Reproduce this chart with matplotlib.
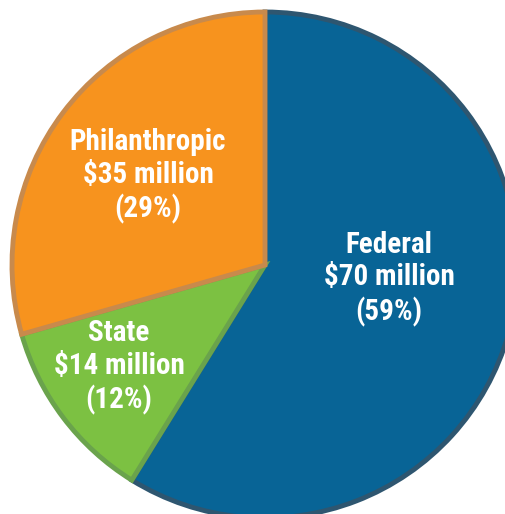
import matplotlib.pyplot as plt

# funding sources
labels = ['Federal', 'State', 'Philanthropic']
amounts = [70, 14, 35]          # $ million
shares = [59, 12, 29]           # percent
colors = ['#086496', '#7cc142', '#f7931e']
edge_colors = ['#2e5670', '#6aa34c', '#c88a4c']

fig = plt.figure(figsize=(5.06, 5.14), dpi=100)
ax = fig.add_axes([0, 0, 1, 1])

wedges, _ = ax.pie(amounts, colors=colors, startangle=90, counterclock=False,
                   radius=1.0, center=(0, 0))
for w, ec in zip(wedges, edge_colors):
    w.set_edgecolor(ec)
    w.set_linewidth(3.5)

# label positions (data coords, pie radius = 1)
label_pos = [(0.49, -0.054), (-0.577, -0.403), (-0.462, 0.352)]
for lab, amt, pct, (x, y) in zip(labels, amounts, shares, label_pos):
    ax.text(x, y, f'{lab}\n${amt} million\n({pct}%)', ha='center', va='center',
            color='white', fontsize=21, fontweight='bold',
            family=['Roboto Condensed', 'DejaVu Sans'], linespacing=1.22)

ax.set_xlim(-265 / 253, 241 / 253)
ax.set_ylim(-249 / 253, 265 / 253)
ax.set_aspect('auto')
ax.axis('off')

fig.savefig('out.png', dpi=100)
